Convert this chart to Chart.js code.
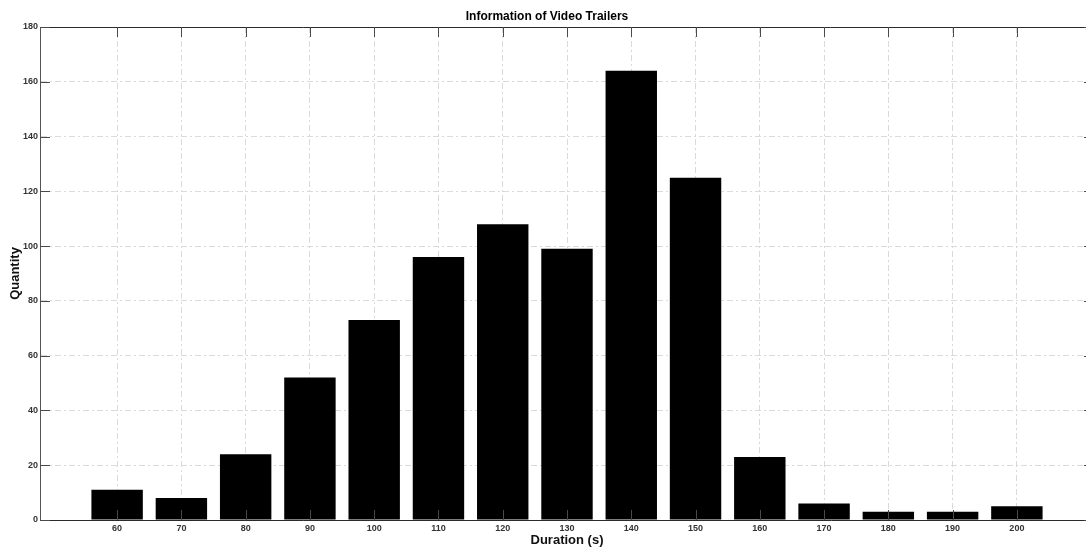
<!DOCTYPE html>
<html>
<head>
<meta charset="utf-8">
<script src="https://cdn.jsdelivr.net/npm/chart.js@4/dist/chart.umd.min.js"></script>
<style>
  html, body { margin: 0; padding: 0; background: #fff; overflow: hidden; }
  canvas { display: block; }
</style>
</head>
<body>
<canvas id="trailers" width="1094" height="548"></canvas>
<script>
// Information of Video Trailers - bar chart (MATLAB look)
const durations = [60, 70, 80, 90, 100, 110, 120, 130, 140, 150, 160, 170, 180, 190, 200];
const quantities = [11, 8, 24, 52, 73, 96, 108, 99, 164, 125, 23, 6, 3, 3, 5];
const xTicks = [60, 70, 80, 90, 100, 110, 120, 130, 140, 150, 160, 170, 180, 190, 200];
const yTicks = [0, 20, 40, 60, 80, 100, 120, 140, 160, 180];

const FONT = 'Arial, "Liberation Sans", Helvetica, sans-serif';
const AXIS_COLOR = '#2b2b2b';
const TICK_COLOR = '#4a4a4a';
const GRID_COLOR = '#dadada';
const TICK_LEN = 10;

// box outline and inward tick marks, drawn over the bars like MATLAB does
const matlabBox = {
    id: 'matlabBox',
    afterDatasetsDraw(chart) {
        const { ctx, chartArea: a, scales: { x, y } } = chart;
        ctx.save();
        ctx.lineWidth = 1;
        ctx.strokeStyle = AXIS_COLOR;
        ctx.beginPath();
        ctx.moveTo(a.left, a.top + 0.5);
        ctx.lineTo(a.right, a.top + 0.5);
        ctx.moveTo(a.right - 0.5, a.top);
        ctx.lineTo(a.right - 0.5, a.bottom);
        ctx.stroke();

        ctx.strokeStyle = TICK_COLOR;
        ctx.beginPath();
        for (const v of xTicks) {
            const px = Math.round(x.getPixelForValue(v)) + 0.5;
            ctx.moveTo(px, a.bottom);
            ctx.lineTo(px, a.bottom - TICK_LEN);
            ctx.moveTo(px, a.top);
            ctx.lineTo(px, a.top + TICK_LEN);
        }
        for (const v of yTicks) {
            const py = Math.round(y.getPixelForValue(v)) + 0.5;
            ctx.moveTo(a.left, py);
            ctx.lineTo(a.left + TICK_LEN, py);
            ctx.moveTo(a.right, py);
            ctx.lineTo(a.right - TICK_LEN, py);
        }
        ctx.stroke();
        ctx.restore();
    }
};

new Chart(document.getElementById('trailers'), {
    type: 'bar',
    data: {
        datasets: [{
            label: 'Quantity',
            data: durations.map((d, i) => ({ x: d, y: quantities[i] })),
            backgroundColor: '#000000',
            borderColor: '#000000',
            borderWidth: 0,
            barPercentage: 0.8,
            categoryPercentage: 1.0
        }]
    },
    options: {
        responsive: false,
        animation: false,
        layout: { padding: 0 },
        plugins: {
            legend: { display: false },
            tooltip: { enabled: false },
            title: {
                display: true,
                text: 'Information of Video Trailers',
                color: '#000',
                font: { family: FONT, size: 12, weight: 'bold', lineHeight: 1.2 },
                padding: { top: 9, bottom: 3.6 }
            }
        },
        scales: {
            x: {
                type: 'linear',
                min: 48,
                max: 212,
                offset: false,
                afterBuildTicks: s => { s.ticks = xTicks.map(v => ({ value: v })); },
                afterFit: s => { s.height = 28; },
                ticks: {
                    color: '#333',
                    font: { family: FONT, size: 9, weight: 'bold' },
                    padding: 3,
                    maxRotation: 0,
                    autoSkip: false
                },
                grid: {
                    color: GRID_COLOR,
                    drawTicks: false,
                    offset: false
                },
                border: { color: AXIS_COLOR, width: 1, dash: [6, 3, 2, 3] },
                title: {
                    display: true,
                    text: 'Duration (s)',
                    color: '#111',
                    font: { family: FONT, size: 13, weight: 'bold', lineHeight: 1.2 },
                    padding: { top: 0, bottom: 0 }
                }
            },
            y: {
                min: 0,
                max: 180,
                afterBuildTicks: s => { s.ticks = yTicks.map(v => ({ value: v })); },
                afterFit: s => { s.width = 40; },
                ticks: {
                    color: '#333',
                    font: { family: FONT, size: 9, weight: 'bold' },
                    padding: 2
                },
                grid: {
                    color: GRID_COLOR,
                    drawTicks: false
                },
                border: { color: '#555', width: 1, dash: [6, 3, 2, 3] },
                title: {
                    display: true,
                    text: 'Quantity',
                    color: '#111',
                    font: { family: FONT, size: 13, weight: 'bold', lineHeight: 1.2 },
                    padding: { top: 8, bottom: 0 }
                }
            }
        }
    },
    plugins: [matlabBox]
});
</script>
</body>
</html>
